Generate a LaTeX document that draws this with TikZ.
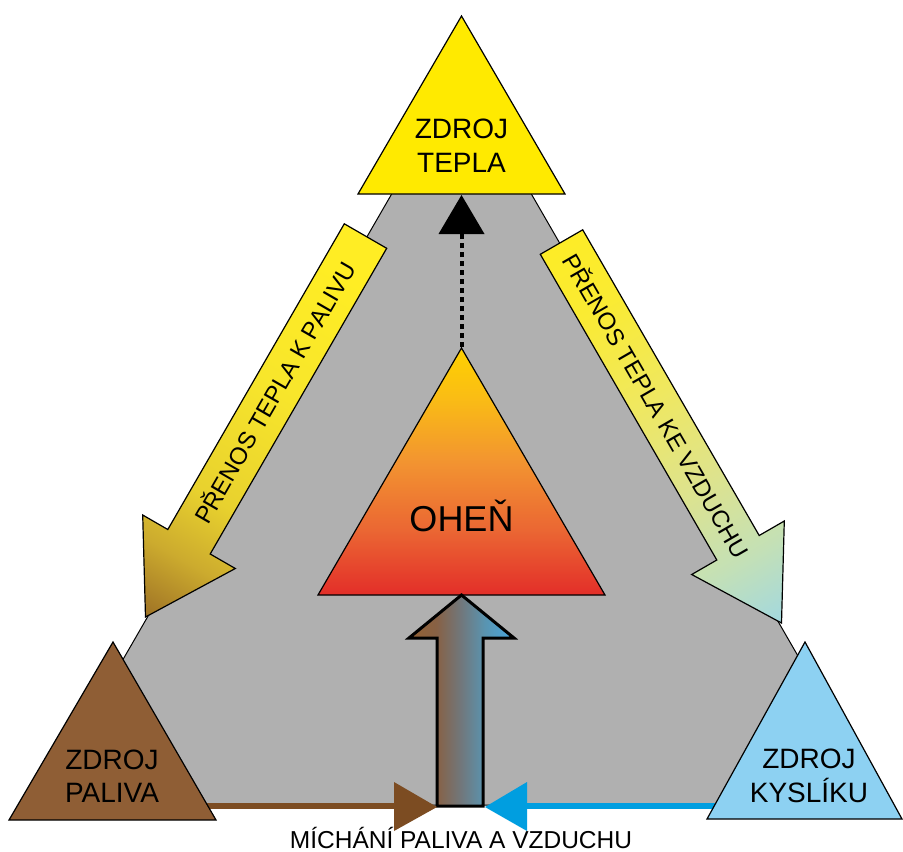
\documentclass[tikz,border=0pt]{standalone}
\usepackage{fontspec}
\setmainfont{Liberation Sans}
\usetikzlibrary{calc}
\definecolor{grayfill}{RGB}{176,176,176}
\definecolor{heatyellow}{RGB}{255,234,0}
\definecolor{fuelbrown}{RGB}{143,94,53}
\definecolor{oxyblue}{RGB}{141,209,242}
\definecolor{fuelline}{RGB}{124,76,34}
\definecolor{oxyline}{RGB}{0,158,224}
\pgfdeclareverticalshading{fireshade}{100bp}{rgb(0bp)=(0.89,0.18,0.16); rgb(25bp)=(0.89,0.18,0.16); rgb(38bp)=(0.92,0.40,0.20); rgb(52bp)=(0.95,0.58,0.19); rgb(65bp)=(0.98,0.74,0.08); rgb(75bp)=(1,0.82,0); rgb(100bp)=(1,0.82,0)}
\pgfdeclareverticalshading{fuelheatshade}{100bp}{rgb(0bp)=(0.45,0.28,0.11); rgb(8bp)=(0.47,0.29,0.12); rgb(17bp)=(0.64,0.47,0.15); rgb(26bp)=(0.80,0.67,0.18); rgb(36bp)=(0.91,0.82,0.18); rgb(55bp)=(0.97,0.90,0.17); rgb(75bp)=(1,0.93,0.14); rgb(100bp)=(1,0.93,0.14)}
\pgfdeclareverticalshading{airheatshade}{100bp}{rgb(0bp)=(0.55,0.82,0.95); rgb(8bp)=(0.55,0.82,0.95); rgb(17bp)=(0.65,0.85,0.86); rgb(27bp)=(0.77,0.88,0.71); rgb(40bp)=(0.87,0.89,0.55); rgb(55bp)=(0.94,0.91,0.37); rgb(70bp)=(0.98,0.92,0.20); rgb(89bp)=(1,0.93,0.12); rgb(100bp)=(1,0.93,0.12)}
\pgfdeclarehorizontalshading{mixshade}{100bp}{rgb(0bp)=(0.58,0.38,0.20); rgb(25bp)=(0.58,0.38,0.20); rgb(38bp)=(0.53,0.38,0.27); rgb(50bp)=(0.44,0.47,0.49); rgb(61bp)=(0.35,0.58,0.69); rgb(75bp)=(0.28,0.65,0.87); rgb(100bp)=(0.28,0.65,0.87)}
\begin{document}
\begin{tikzpicture}[x=1pt,y=-1pt,
  outline/.style={draw=black,line width=1.2pt,line join=miter},
  lbl/.style={font=\fontsize{28}{33.5}\selectfont,align=center,inner sep=0pt},
  arrowlbl/.style={font=\fontsize{24}{28}\selectfont,inner sep=0pt,text height=17.2pt,text depth=0pt},
  flowline/.style={line width=6pt}]
\useasboundingbox (0,0) rectangle (903,852);
\fill[white] (0,0) rectangle (903,852);
% gray background triangle
\draw[outline,line width=1pt,fill=grayfill] (461.5,73) -- (884,805) -- (39,805) -- cycle;
% heat transfer to fuel
\shadedraw[outline,shading=fuelheatshade,shading angle=-30]
  (344.3,223.8) -- (167.8,529.5) -- (142.7,515) -- (145.5,617) -- (235.3,568.5) -- (210.2,554) -- (386.7,248.3) -- cycle;
\node[arrowlbl,rotate=60] (tfuel) at (275,393) {PŘENOS TEPLA K PALIVU};
% heat transfer to air
\shadedraw[outline,shading=airheatshade,shading angle=30]
  (540.3,254.3) -- (716.8,560) -- (691.7,574.5) -- (781.5,623) -- (784.3,521) -- (759.2,535.5) -- (582.7,229.8) -- cycle;
\node[arrowlbl,rotate=-60] (tair) at (656,406) {PŘENOS TEPLA KE VZDUCHU};
% heat source
\draw[outline,fill=heatyellow] (461.5,16) -- (565,194) -- (358,194) -- cycle;
\node[lbl] (heat) at (461.5,145.5) {ZDROJ\\TEPLA};
% dotted arrow fire -> heat
\coordinate (fireapex) at (461.5,347);
\coordinate (dotend) at (461.5,234);
\coordinate (heatbase) at (461.5,195);
\draw[line width=4pt,dash pattern=on 5pt off 4pt] (fireapex) -- (dotend);
\fill (heatbase) -- (484.5,234) -- (438.5,234) -- cycle;
% fire
\shadedraw[outline,shading=fireshade] (461.5,348) -- (605,595) -- (318,595) -- cycle;
\node[font=\fontsize{36}{40}\selectfont,inner sep=0pt,anchor=base] (fire) at (461.5,531) {OHEŇ};
% mixing arrow
\shadedraw[draw=black,line width=3pt,line join=miter,shading=mixshade]
  (437,806) -- (437,638) -- (409,638) -- (461.5,595) -- (514,638) -- (483,638) -- (483,806) -- cycle;
% fuel line
\coordinate (fuelstart) at (200,806);
\coordinate (fuelhead) at (395,806);
\draw[flowline,fuelline] (fuelstart) -- (fuelhead);
\fill[fuelline] (394,782) -- (437,807) -- (394,831) -- cycle;
% oxygen line
\coordinate (oxystart) at (720,806);
\coordinate (oxyhead) at (526,806);
\draw[flowline,oxyline] (oxystart) -- (oxyhead);
\fill[oxyline] (527,782) -- (485,807) -- (527,831) -- cycle;
% bottom sources
\draw[outline,fill=fuelbrown] (113,642) -- (216,820) -- (9,820) -- cycle;
\node[lbl] (fuel) at (112,776) {ZDROJ\\PALIVA};
\draw[outline,fill=oxyblue] (805,642) -- (902,819) -- (707,819) -- cycle;
\node[lbl] (oxy) at (809,776) {ZDROJ\\KYSLÍKU};
\node[font=\fontsize{24.5}{28}\selectfont,inner sep=0pt,anchor=base] (mix) at (461,848) {MÍCHÁNÍ PALIVA A VZDUCHU};
\end{tikzpicture}
\end{document}
